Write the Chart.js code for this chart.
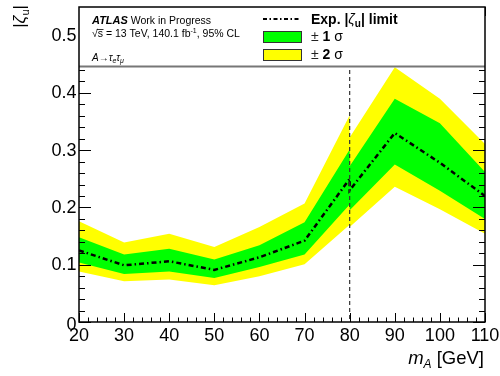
<!DOCTYPE html>
<html><head><meta charset="utf-8">
<script src="https://cdn.jsdelivr.net/npm/chart.js@4/dist/chart.umd.min.js"></script>
<style>html,body{margin:0;padding:0;background:#fff;overflow:hidden}</style>
</head><body>
<canvas id="c" width="500" height="376" style="display:block;width:500px;height:376px"></canvas>
<script>
const massPoints   = [20, 30, 40, 50, 60, 70, 80, 80, 90, 100, 110];
const expectedLimit = [0.125, 0.099, 0.106, 0.091, 0.113, 0.142, 0.250, 0.230, 0.330, 0.278, 0.220];
const band1Up   = [0.148, 0.118, 0.128, 0.109, 0.134, 0.174, 0.301, 0.272, 0.390, 0.347, 0.262];
const band1Down = [0.104, 0.084, 0.088, 0.077, 0.096, 0.118, 0.205, 0.195, 0.275, 0.229, 0.180];
const band2Up   = [0.176, 0.139, 0.154, 0.131, 0.166, 0.207, 0.361, 0.322, 0.445, 0.390, 0.311];
const band2Down = [0.088, 0.071, 0.074, 0.064, 0.080, 0.101, 0.170, 0.166, 0.236, 0.197, 0.154];
const xTickLabels = ['20', '30', '40', '50', '60', '70', '80', '90', '100', '110'];
const yTickLabels = ['0', '0.1', '0.2', '0.3', '0.4', '0.5'];
const referenceMass = 80;

const FF = '"Liberation Sans", Arial, Helvetica, sans-serif';
const GREEN = '#00ff00', YELLOW = '#ffff00';

function pts(arr) { return massPoints.map((m, i) => ({ x: m, y: arr[i] })); }

function rich(ctx, x, y, parts) {
  let cx = x;
  for (const p of parts) {
    ctx.font = p.f;
    ctx.fillStyle = p.c || '#000';
    cx += (p.pre || 0);
    ctx.fillText(p.t, cx, y + (p.dy || 0));
    cx += ctx.measureText(p.t).width + (p.post || 0);
  }
  return cx;
}
function richWidth(ctx, parts) {
  let w = 0;
  for (const p of parts) { ctx.font = p.f; w += (p.pre || 0) + ctx.measureText(p.t).width + (p.post || 0); }
  return w;
}

const framePlugin = {
  id: 'frame',
  afterDatasetsDraw(chart) {
    const { ctx, chartArea: a, scales: { x, y } } = chart;
    ctx.save();
    // reference dashed line
    const xr = x.getPixelForValue(referenceMass);
    ctx.strokeStyle = '#333'; ctx.lineWidth = 1.2; ctx.setLineDash([4, 3]);
    ctx.beginPath(); ctx.moveTo(xr, a.top); ctx.lineTo(xr, a.bottom); ctx.stroke();
    ctx.setLineDash([]);
    // ticks
    ctx.strokeStyle = '#000'; ctx.lineWidth = 1;
    ctx.beginPath();
    for (let i = 0; i <= 45; i++) {
      const v = 20 + 2 * i;
      const px = Math.round(x.getPixelForValue(v)) + 0.5;
      const len = (v % 10 === 0) ? 9 : 4.5;
      ctx.moveTo(px, a.bottom); ctx.lineTo(px, a.bottom - len);
      ctx.moveTo(px, a.top); ctx.lineTo(px, a.top + len);
    }
    for (let i = 0; i <= 27; i++) {
      const v = i * 0.02;
      const py = Math.round(y.getPixelForValue(v)) + 0.5;
      if (py < a.top) continue;
      const len = (i % 5 === 0) ? 12 : 6;
      ctx.moveTo(a.left, py); ctx.lineTo(a.left + len, py);
      ctx.moveTo(a.right, py); ctx.lineTo(a.right - len, py);
    }
    ctx.stroke();

    // legend box (white, covers top of pad)
    const lbBottom = 66.5;
    ctx.fillStyle = '#fff';
    ctx.fillRect(a.left, a.top, a.right - a.left, lbBottom - a.top);
    ctx.strokeStyle = '#777'; ctx.lineWidth = 2;
    ctx.beginPath(); ctx.moveTo(a.left, lbBottom); ctx.lineTo(a.right, lbBottom); ctx.stroke();

    // frame
    ctx.strokeStyle = '#000'; ctx.lineWidth = 1.5;
    ctx.strokeRect(a.left, a.top, a.right - a.left, a.bottom - a.top);

    // legend text (left)
    ctx.textBaseline = 'alphabetic'; ctx.textAlign = 'left';
    rich(ctx, 92, 24, [
      { t: 'ATLAS', f: 'italic bold 11px ' + FF },
      { t: ' Work in Progress', f: '10.5px ' + FF }
    ]);
    // sqrt(s) line
    ctx.font = '10.5px ' + FF;
    const f2 = '10.5px ' + FF;
    let cx = rich(ctx, 92, 37, [{ t: '\u221A', f: f2 }]);
    ctx.font = f2;
    const sw = ctx.measureText('s').width;
    ctx.fillText('s', cx, 37);
    ctx.strokeStyle = '#000'; ctx.lineWidth = 0.8;
    ctx.beginPath(); ctx.moveTo(cx - 1, 29.5); ctx.lineTo(cx + sw + 0.5, 29.5); ctx.stroke();
    cx += sw;
    cx = rich(ctx, cx, 37, [
      { t: ' = 13 TeV, 140.1 fb', f: f2 },
      { t: '-1', f: '7px ' + FF, dy: -4 },
      { t: ', 95% CL', f: f2 }
    ]);
    rich(ctx, 92, 61, [
      { t: 'A', f: 'italic 10px ' + FF },
      { t: '\u2192', f: '10px ' + FF },
      { t: '\u03C4', f: 'italic 10px ' + FF },
      { t: 'e', f: 'italic 7px ' + FF, dy: 2 },
      { t: '\u03C4', f: 'italic 10px ' + FF },
      { t: '\u03BC', f: 'italic 7px ' + FF, dy: 2 }
    ]);

    // legend (right)
    ctx.strokeStyle = '#000'; ctx.lineWidth = 2; ctx.setLineDash([4, 2.5, 1.5, 2.5]);
    ctx.beginPath(); ctx.moveTo(263, 19); ctx.lineTo(301, 19); ctx.stroke();
    ctx.setLineDash([]);
    rich(ctx, 311, 23.5, [
      { t: 'Exp. |', f: 'bold 14px ' + FF },
      { t: '\u03B6', f: 'italic 14px ' + FF },
      { t: 'u', f: 'bold 10px ' + FF, dy: 3.5 },
      { t: '| limit', f: 'bold 14px ' + FF }
    ]);
    ctx.lineWidth = 1; ctx.strokeStyle = '#333';
    ctx.fillStyle = GREEN; ctx.fillRect(263, 31, 39, 12); ctx.strokeRect(263.5, 31.5, 38, 11);
    ctx.fillStyle = YELLOW; ctx.fillRect(263, 49, 39, 12); ctx.strokeRect(263.5, 49.5, 38, 11);
    rich(ctx, 311, 41, [
      { t: '\u00B1 ', f: '14px ' + FF, c: '#222' },
      { t: '1', f: 'bold 14px ' + FF },
      { t: ' \u03C3', f: '14px ' + FF }
    ]);
    rich(ctx, 311, 59, [
      { t: '\u00B1 ', f: '14px ' + FF, c: '#222' },
      { t: '2', f: 'bold 14px ' + FF },
      { t: ' \u03C3', f: '14px ' + FF }
    ]);
    ctx.restore();
  },
  afterDraw(chart) {
    const { ctx, chartArea: a, scales: { x, y } } = chart;
    ctx.save();
    ctx.fillStyle = '#000';
    ctx.font = '18px ' + FF;
    // x labels
    ctx.textAlign = 'center'; ctx.textBaseline = 'alphabetic';
    for (const l of xTickLabels) ctx.fillText(l, x.getPixelForValue(parseFloat(l)), 341);
    // y labels
    ctx.textAlign = 'right'; ctx.textBaseline = 'middle';
    for (const l of yTickLabels) {
      const v = parseFloat(l);
      ctx.fillText(l, a.left - 2.5, y.getPixelForValue(v) + (v === 0 ? 3 : 0.5));
    }
    // x title
    ctx.textAlign = 'left'; ctx.textBaseline = 'alphabetic';
    const xt = [
      { t: 'm', f: 'italic 18.5px ' + FF },
      { t: 'A', f: 'italic 12px ' + FF, dy: 4 },
      { t: ' [GeV]', f: '18.5px ' + FF }
    ];
    rich(ctx, 484 - richWidth(ctx, xt), 364, xt);
    // y title
    ctx.translate(25, 5);
    ctx.rotate(-Math.PI / 2);
    const yt = [
      { t: '|', f: '17px ' + FF },
      { t: '\u03B6', f: 'italic 17px ' + FF },
      { t: 'u', f: '11px ' + FF, dy: 4 },
      { t: '|', f: '17px ' + FF }
    ];
    rich(ctx, -richWidth(ctx, yt), 0, yt);
    ctx.restore();
  }
};

const lineBase = { pointRadius: 0, borderWidth: 0, tension: 0, borderColor: 'rgba(0,0,0,0)' };

new Chart(document.getElementById('c'), {
  type: 'line',
  data: {
    datasets: [
      { label: 'Exp. limit', data: pts(expectedLimit), pointRadius: 0, tension: 0,
        borderColor: '#000', borderWidth: 2.5, borderDash: [5, 3, 1.5, 3], fill: false },
      Object.assign({ label: '+1 sigma', data: pts(band1Up), fill: '+1', backgroundColor: GREEN }, lineBase),
      Object.assign({ label: '-1 sigma', data: pts(band1Down), fill: false }, lineBase),
      Object.assign({ label: '+2 sigma', data: pts(band2Up), fill: '+1', backgroundColor: YELLOW }, lineBase),
      Object.assign({ label: '-2 sigma', data: pts(band2Down), fill: false }, lineBase)
    ]
  },
  options: {
    responsive: false,
    animation: false,
    devicePixelRatio: 1,
    layout: { padding: { left: 0, top: 7, right: 15, bottom: 0 } },
    plugins: { legend: { display: false }, tooltip: { enabled: false } },
    scales: {
      x: { type: 'linear', min: 20, max: 110,
        grid: { display: false }, border: { display: false }, ticks: { display: false },
        afterFit(s) { s.height = 54; } },
      y: { type: 'linear', min: 0, max: 0.55,
        grid: { display: false }, border: { display: false }, ticks: { display: false },
        afterFit(s) { s.width = 79; } }
    }
  },
  plugins: [framePlugin]
});
</script>
</body></html>
